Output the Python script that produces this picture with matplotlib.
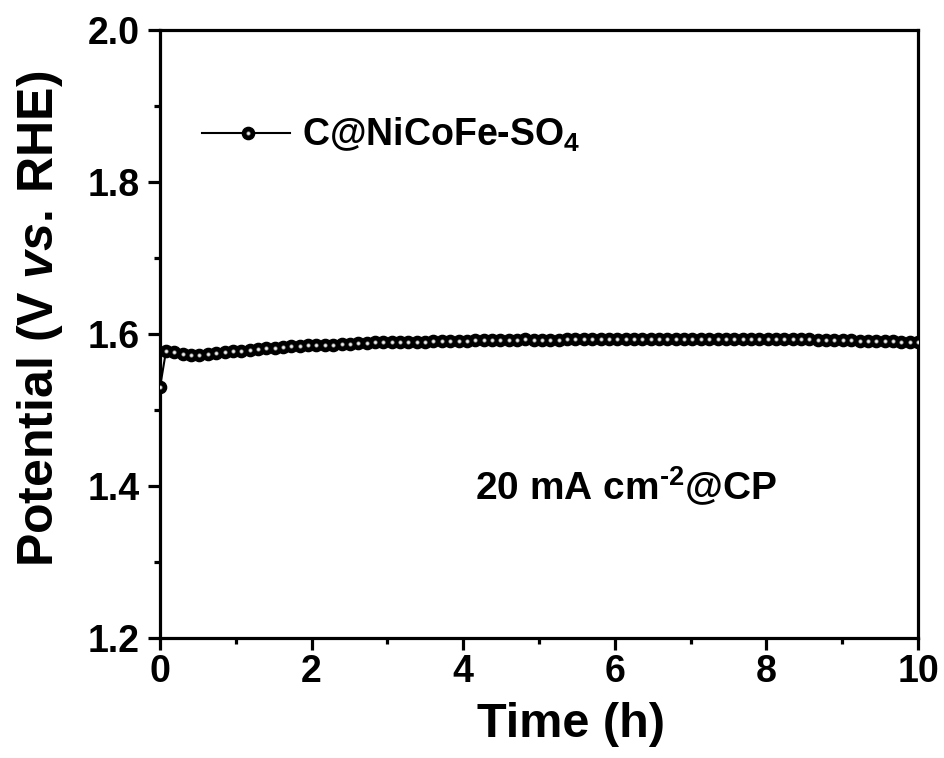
import numpy as np
import matplotlib
matplotlib.use("Agg")
import matplotlib.pyplot as plt
from matplotlib.ticker import MultipleLocator, FormatStrFormatter

plt.rcParams["font.family"] = ["Liberation Sans", "DejaVu Sans"]
plt.rcParams["font.weight"] = "bold"
plt.rcParams["mathtext.fontset"] = "custom"
plt.rcParams["mathtext.rm"] = "Liberation Sans:bold"
plt.rcParams["mathtext.it"] = "Liberation Sans:italic:bold"
plt.rcParams["mathtext.bf"] = "Liberation Sans:bold"
plt.rcParams["mathtext.default"] = "rm"

# chronopotentiometry at 20 mA cm-2
t_start = 0.0
v_start = 1.530
potential = [
    1.578, 1.576, 1.574, 1.573, 1.573, 1.574, 1.575, 1.576, 1.577, 1.578,
    1.579, 1.580, 1.581, 1.582, 1.583, 1.584, 1.584, 1.585, 1.585, 1.586,
    1.586, 1.587, 1.587, 1.588, 1.588, 1.589, 1.589, 1.589, 1.590, 1.590,
    1.590, 1.590, 1.591, 1.591, 1.591, 1.591, 1.591, 1.592, 1.592, 1.592,
    1.592, 1.592, 1.592, 1.593, 1.592, 1.592, 1.592, 1.592, 1.593, 1.593,
    1.593, 1.593, 1.593, 1.593, 1.593, 1.593, 1.593, 1.594, 1.594, 1.594,
    1.594, 1.593, 1.593, 1.593, 1.594, 1.594, 1.594, 1.594, 1.594, 1.594,
    1.594, 1.594, 1.594, 1.593, 1.593, 1.593, 1.593, 1.593, 1.592, 1.592,
    1.592, 1.592, 1.592, 1.591, 1.591, 1.591, 1.591, 1.591, 1.590, 1.590,
    1.590,
]
time = np.concatenate([[t_start], np.linspace(0.08, 10, len(potential))])
volts = np.concatenate([[v_start], potential])


def sphere(ax, x, y):
    # black ball with a small light highlight, like Origin's shaded circle
    ax.plot(x, y, "o", ms=8.8, mfc="black", mec="black", zorder=3)
    ax.plot(x, y, "o", ms=3.0, mfc="#9a9a9a", mec="none", zorder=4)
    ax.plot(x, y, "o", ms=1.8, mfc="#f4f4f4", mec="none", zorder=5)


fig = plt.figure(figsize=(9.44, 7.58), dpi=100)
ax = fig.add_axes([0.1695, 0.1583, 0.803, 0.8021])

ax.plot(time, volts, "-", color="black", lw=1.5, zorder=2)
sphere(ax, time, volts)

ax.set_xlim(0, 10)
ax.set_ylim(1.2, 2.0)
ax.xaxis.set_major_locator(MultipleLocator(2))
ax.xaxis.set_minor_locator(MultipleLocator(1))
ax.yaxis.set_major_locator(MultipleLocator(0.2))
ax.yaxis.set_minor_locator(MultipleLocator(0.1))
ax.yaxis.set_major_formatter(FormatStrFormatter("%.1f"))
for s in ax.spines.values():
    s.set_linewidth(2.3)
ax.tick_params(which="major", direction="out", length=8.5, width=2.3, labelsize=27)
ax.tick_params(which="minor", direction="out", length=4, width=2.3)
ax.tick_params(axis="x", which="major", pad=3)
ax.tick_params(axis="y", which="major", pad=6)

ax.set_xlabel("Time (h)", fontsize=35, fontweight="bold")
ax.xaxis.set_label_coords(0.542, -0.105)
ax.set_ylabel(r"Potential (V $\mathit{vs.}\,$RHE)", fontsize=36, fontweight="bold")
ax.yaxis.set_label_coords(-0.125, 0.525)

# legend drawn by hand to match the original placement
ax.plot([0.55, 1.72], [1.864, 1.864], "-", color="black", lw=1.5, zorder=2)
sphere(ax, [1.16], [1.864])
ax.text(1.87, 1.862, r"C@NiCoFe-SO$_4$", fontsize=27, fontweight="bold", va="center")

ax.text(4.16, 1.40, r"20 mA cm$^{\text{-}2}$@CP", fontsize=28, fontweight="bold", va="center")

fig.savefig("out.png", dpi=100)
